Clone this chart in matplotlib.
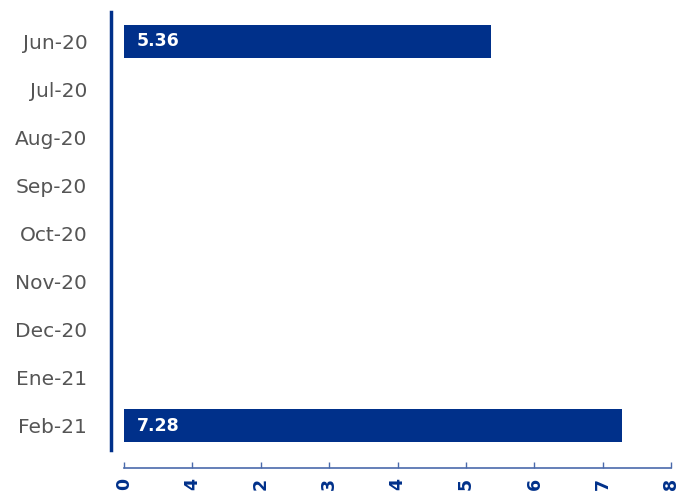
import matplotlib.pyplot as plt
import numpy as np

# Monthly values (only Jun-20 and Feb-21 reported)
months = ['Jun-20', 'Jul-20', 'Aug-20', 'Sep-20', 'Oct-20', 'Nov-20', 'Dec-20', 'Ene-21', 'Feb-21']
values = [5.36, np.nan, np.nan, np.nan, np.nan, np.nan, np.nan, np.nan, 7.28]
xticks = [0, 1, 2, 3, 4, 5, 6, 7, 8]
xticklabels = ['0', '4', '2', '3', '4', '5', '6', '7', '8']

navy = '#00308a'

fig = plt.figure(figsize=(6.85, 4.94), dpi=100)
ax = fig.add_axes([0.162, 0.089, 0.831, 0.887])

# spines first: moving a spine resets the tick labels
for s in ['top', 'right']:
    ax.spines[s].set_visible(False)
ax.spines['left'].set_color(navy)
ax.spines['left'].set_linewidth(2.5)
ax.spines['bottom'].set_color('#4a6aab')
ax.spines['bottom'].set_linewidth(1.2)
ax.spines['bottom'].set_position(('outward', 13))

pos = np.arange(len(months))
vals = np.array(values, dtype=float)
shown = ~np.isnan(vals)
ax.barh(pos[shown], vals[shown], height=0.69, color=navy)

# value labels inside the bars, near the left end
for p, v in zip(pos[shown], vals[shown]):
    ax.text(0.19, p, f'{v:.2f}', color='white', fontweight='bold',
            fontsize=12.5, va='center', ha='left')

ax.set_yticks(pos)
ax.set_yticklabels(months, fontsize=14.5, color='#555555')
ax.set_ylim(8.51, -0.615)

ax.set_xlim(-0.19, 8.13)
ax.set_xticks(xticks)
ax.set_xticklabels(xticklabels, rotation=90, fontsize=12.5, fontweight='bold', color=navy)
ax.spines['bottom'].set_bounds(0, 8)

ax.tick_params(axis='y', length=0, pad=17)
ax.tick_params(axis='x', direction='in', length=4, width=1, color='#4a6aab', pad=7)

fig.savefig('out.png', dpi=100)
